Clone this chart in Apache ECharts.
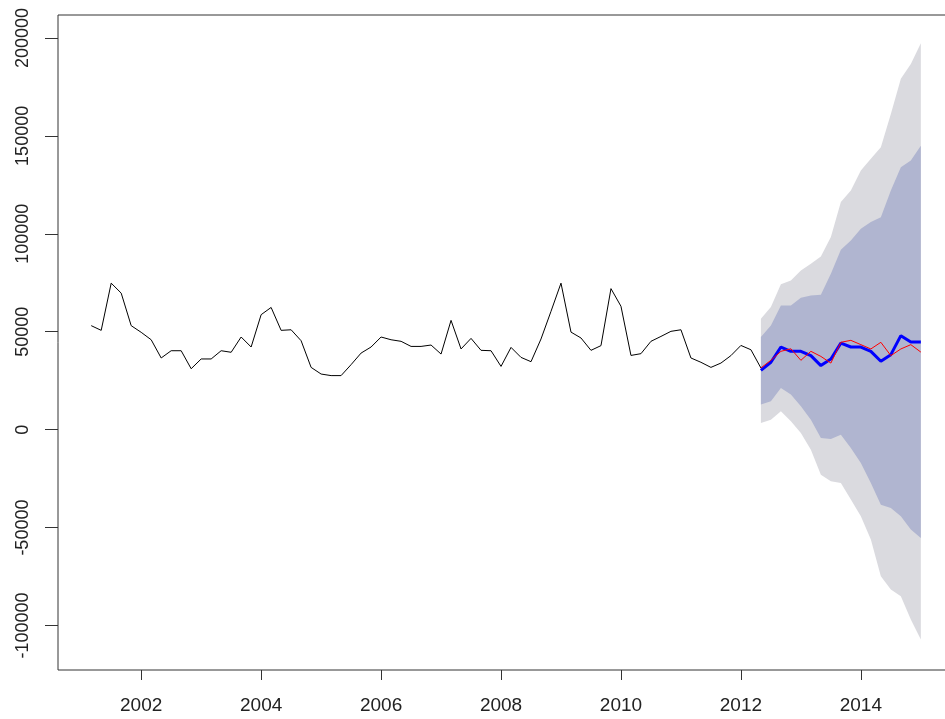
<!DOCTYPE html>
<html>
<head>
<meta charset="utf-8">
<script src="https://cdn.jsdelivr.net/npm/echarts@6/dist/echarts.min.js"></script>
<style>
  html, body { margin: 0; padding: 0; background: #fff; overflow: hidden; }
  #main { width: 960px; height: 719px; }
</style>
</head>
<body>
<div id="main"></div>
<script>
// bimonthly series, first point at 2001 period 2
var startTime = 2001 + 1 / 6;
var step = 1 / 6;

var observed = [
    53100, 50700, 74800, 69700, 53100, 49700, 45900, 36600, 40300, 40300,
    31100, 36100, 36100, 40300, 39500, 47300, 42200, 58700, 62400, 50700,
    51000, 45400, 31800, 28400, 27600, 27600, 33200, 39100, 42200, 47300,
    45900, 45100, 42500, 42500, 43200, 38600, 55800, 41200, 46600, 40500,
    40300, 32300, 42000, 36900, 34700, 46300, 60400, 74800, 49800, 46800,
    40500, 42900, 72000, 63000, 37900, 38800, 45100, 47600, 50200, 51000,
    36600, 34400, 31800, 34000, 37800, 43000, 40800, 31500
];

// forecast period starts at the last observed point
var forecast = [
    30300, 34400, 42200, 40000, 40000, 37800, 32700, 36100, 44200, 42200,
    42200, 40000, 34900, 38300, 48000, 44700, 44700
];
var actual = [
    31500, 35400, 40000, 41300, 35400, 40000, 37400, 34000, 44600, 45600,
    43400, 41200, 44600, 37800, 41200, 43400, 39600
];
var lo80 = [
    12800, 14500, 21300, 17900, 12000, 5100, -4300, -4800, -2600, -9400,
    -17000, -27200, -38300, -40000, -44200, -51000, -55300
];
var hi80 = [
    47300, 53200, 63400, 63400, 67300, 68500, 68900, 79600, 91800, 96600,
    102600, 106000, 108500, 122100, 134000, 137400, 145000
];
var lo95 = [
    3400, 5100, 9400, 4300, -1700, -10200, -23000, -26400, -27200, -35700,
    -44200, -56100, -74800, -81600, -85000, -96900, -107100
];
var hi95 = [
    56600, 62600, 74200, 76200, 81300, 84700, 88400, 98300, 116200, 122100,
    132300, 138300, 144200, 161200, 179100, 186700, 197300
];

var xTicks = [2002, 2004, 2006, 2008, 2010, 2012, 2014];
var yTicks = [-100000, -50000, 0, 50000, 100000, 150000, 200000];

var chart = echarts.init(document.getElementById('main'));

function obsPoints() {
    return observed.map(function(v, i) {
        return [startTime + i * step, v];
    });
}

function fcTime(i) {
    return startTime + (observed.length - 1 + i) * step;
}

function fcPoints(arr) {
    return arr.map(function(v, i) {
        return [fcTime(i), v];
    });
}

function bandData(lo, hi) {
    return lo.map(function(v, i) {
        return [fcTime(i), v, hi[i]];
    });
}

// one polygon per band, built from every point of the band
function band(name, lo, hi, color) {
    return {
        name: name,
        type: 'custom',
        silent: true,
        data: bandData(lo, hi),
        encode: { x: 0, y: [1, 2] },
        renderItem: function(params, api) {
            if (params.dataIndex !== 0) {
                return null;
            }
            var pts = [];
            var i;
            for (i = 0; i < lo.length; i++) {
                pts.push(api.coord([fcTime(i), hi[i]]));
            }
            for (i = lo.length - 1; i >= 0; i--) {
                pts.push(api.coord([fcTime(i), lo[i]]));
            }
            return {
                type: 'polygon',
                shape: { points: pts },
                style: { fill: color, stroke: null }
            };
        }
    };
}

var font = 'Liberation Sans, Arial, sans-serif';

var series = [
    band('95', lo95, hi95, '#dadadf'),
    band('80', lo80, hi80, '#b0b5d0'),
    {
        name: 'observed',
        type: 'line',
        data: obsPoints(),
        symbol: 'none',
        z: 3,
        lineStyle: { color: '#000', width: 1 }
    }, {
        name: 'forecast',
        type: 'line',
        data: fcPoints(forecast),
        symbol: 'none',
        z: 3,
        lineStyle: { color: '#0000ff', width: 3 }
    }, {
        name: 'actual',
        type: 'line',
        data: fcPoints(actual),
        symbol: 'none',
        z: 4,
        lineStyle: { color: '#ff0000', width: 1 }
    }
];

var option = {
    animation: false,
    backgroundColor: '#fff',
    grid: {
        left: 58,
        top: 15,
        right: 6,
        bottom: 49,
        show: true,
        borderColor: '#333',
        borderWidth: 1,
        containLabel: false
    },
    xAxis: {
        type: 'value',
        min: 2000.613,
        max: 2015.553,
        splitLine: { show: false },
        axisLine: { show: false, onZero: false },
        axisTick: {
            show: true,
            length: 10,
            customValues: xTicks,
            lineStyle: { color: '#333' }
        },
        axisLabel: {
            customValues: xTicks,
            margin: 26,
            color: '#222',
            fontSize: 19,
            fontFamily: font,
            formatter: function(v) { return String(v); }
        }
    },
    yAxis: {
        type: 'value',
        min: -122700,
        max: 211700,
        splitLine: { show: false },
        axisLine: { show: false, onZero: false },
        axisTick: {
            show: true,
            length: 13,
            customValues: yTicks,
            lineStyle: { color: '#333' }
        },
        axisLabel: {
            customValues: yTicks,
            rotate: 90,
            margin: 26,
            color: '#222',
            fontSize: 18,
            fontFamily: font,
            formatter: function(v) { return String(v); }
        }
    },
    series: series
};

chart.setOption(option);
</script>
</body>
</html>
